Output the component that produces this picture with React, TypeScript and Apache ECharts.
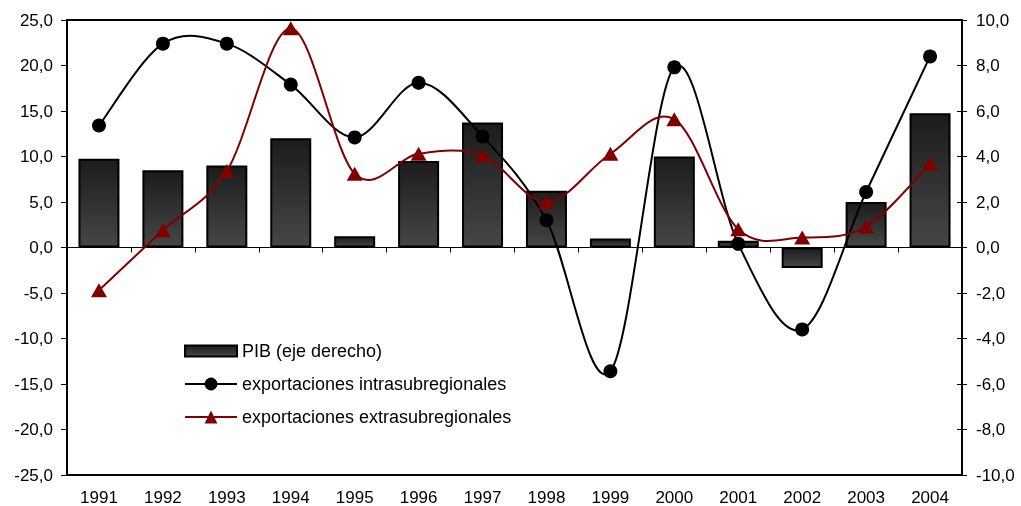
import React, { useEffect, useRef } from "react";
import * as echarts from "echarts";

const years = ["1991", "1992", "1993", "1994", "1995", "1996", "1997", "1998", "1999", "2000", "2001", "2002", "2003", "2004"];
const pib = [3.9, 3.4, 3.6, 4.8, 0.5, 3.8, 5.5, 2.5, 0.4, 4.0, 0.3, -0.9, 2.0, 5.9];
const intra = [13.4, 22.4, 22.4, 17.9, 12.1, 18.1, 12.2, 3.0, -13.6, 19.8, 0.4, -9.0, 6.1, 21.0];
const extra = [-4.7, 1.9, 8.4, 24.1, 8.1, 10.3, 10.1, 5.0, 10.3, 14.1, 2.0, 1.1, 2.3, 9.2];
const seriesNames = ["PIB (eje derecho)", "exportaciones intrasubregionales", "exportaciones extrasubregionales"];

const FONT = "'Liberation Sans', Arial, Helvetica, sans-serif";
const fmt = (v: number) => v.toFixed(1).replace(".", ",");

function curveSeries(name: string, vals: number[], color: string) {
  const n = vals.length;
  return {
    name,
    type: "custom",
    xAxisIndex: 0,
    yAxisIndex: 0,
    z: 5,
    silent: true,
    clip: false,
    data: vals.map((v, i) => [i, v]),
    encode: { x: 0, y: 1 },
    renderItem: (params: any, api: any) => {
      const i = params.dataIndex;
      if (i >= n - 1) return null;
      const P = (k: number) => {
        const kk = Math.max(0, Math.min(n - 1, k));
        return api.coord([kk, vals[kk]]);
      };
      const p0 = P(i - 1);
      const p1 = P(i);
      const p2 = P(i + 1);
      const p3 = P(i + 2);
      const t = 1 / 6;
      return {
        type: "bezierCurve",
        z2: 10,
        shape: {
          x1: p1[0],
          y1: p1[1],
          x2: p2[0],
          y2: p2[1],
          cpx1: p1[0] + (p2[0] - p0[0]) * t,
          cpy1: p1[1] + (p2[1] - p0[1]) * t,
          cpx2: p2[0] - (p3[0] - p1[0]) * t,
          cpy2: p2[1] - (p3[1] - p1[1]) * t,
        },
        style: { stroke: color, lineWidth: 2, fill: null },
      };
    },
  };
}

export default function App() {
  const ref = useRef<HTMLDivElement>(null);
  useEffect(() => {
    if (!ref.current) return;
    const chart = echarts.init(ref.current, null, { renderer: "svg" });
    const barFill = new echarts.graphic.LinearGradient(0, 0, 0, 1, [
      { offset: 0, color: "#1c1c1c" },
      { offset: 1, color: "#464646" },
    ]);
    const axisLabel = { fontSize: 17, color: "#000", fontFamily: FONT, margin: 14 };
    chart.setOption({
      animation: false,
      textStyle: { fontFamily: FONT },
      grid: { left: 67, right: 59, top: 20, bottom: 31, show: true, borderColor: "#000", borderWidth: 2, backgroundColor: "transparent" },
      legend: {
        orient: "vertical",
        left: 179,
        top: 337,
        itemWidth: 52,
        itemHeight: 16,
        itemGap: 15,
        textStyle: { fontSize: 18, color: "#000", fontFamily: FONT },
        data: [
          { name: seriesNames[0], icon: "path://M0 0H52V11H0Z" },
          { name: seriesNames[1], lineStyle: { width: 2, color: "#000", opacity: 1 } },
          { name: seriesNames[2], lineStyle: { width: 2, color: "#800000", opacity: 1 } },
        ],
      },
      xAxis: [
        {
          type: "category",
          data: years,
          position: "bottom",
          axisLine: { show: true, onZero: false, lineStyle: { color: "#000", width: 2 } },
          axisTick: { show: false },
          axisLabel,
        },
        {
          type: "category",
          data: years,
          position: "bottom",
          axisLine: { show: true, onZero: true, lineStyle: { color: "#000", width: 1 } },
          axisTick: { show: true, length: 5, lineStyle: { color: "#000", width: 1 } },
          axisLabel: { show: false },
        },
      ],
      yAxis: [
        {
          type: "value",
          min: -25,
          max: 25,
          interval: 5,
          position: "left",
          axisLine: { show: true, lineStyle: { color: "#000", width: 2 } },
          axisTick: { show: true, length: 6, lineStyle: { color: "#000", width: 1 } },
          splitLine: { show: false },
          axisLabel: { ...axisLabel, formatter: fmt },
        },
        {
          type: "value",
          min: -10,
          max: 10,
          interval: 2,
          position: "right",
          axisLine: { show: true, lineStyle: { color: "#000", width: 2 } },
          axisTick: { show: true, length: 5, lineStyle: { color: "#000", width: 1 } },
          splitLine: { show: false },
          axisLabel: { ...axisLabel, formatter: fmt },
        },
        {
          type: "value",
          min: -10,
          max: 10,
          interval: 2,
          position: "right",
          axisLine: { show: false },
          axisTick: { show: true, inside: true, length: 5, lineStyle: { color: "#000", width: 1 } },
          splitLine: { show: false },
          axisLabel: { show: false },
        },
      ],
      series: [
        {
          name: seriesNames[0],
          type: "bar",
          xAxisIndex: 0,
          yAxisIndex: 1,
          z: 2,
          data: pib,
          barWidth: 41,
          itemStyle: { color: barFill, borderColor: "#000", borderWidth: 2 },
        },
        curveSeries("curva-intra", intra, "#000"),
        curveSeries("curva-extra", extra, "#800000"),
        {
          name: seriesNames[1],
          type: "line",
          xAxisIndex: 0,
          yAxisIndex: 0,
          z: 6,
          data: intra,
          symbol: "circle",
          symbolSize: 14,
          lineStyle: { color: "#000", width: 0, opacity: 0 },
          itemStyle: { color: "#000" },
        },
        {
          name: seriesNames[2],
          type: "line",
          xAxisIndex: 0,
          yAxisIndex: 0,
          z: 7,
          data: extra,
          symbol: "triangle",
          symbolSize: [16, 14],
          lineStyle: { color: "#800000", width: 0, opacity: 0 },
          itemStyle: { color: "#800000" },
        },
      ],
    });
    return () => chart.dispose();
  }, []);
  return <div ref={ref} style={{ position: "fixed", left: 0, top: 0, width: 1021, height: 506 }} />;
}
